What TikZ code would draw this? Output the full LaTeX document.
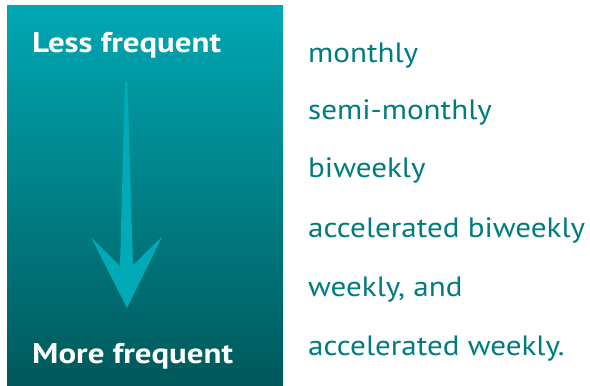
\documentclass[tikz,border=0pt]{standalone}
\usepackage{fontspec}
\setmainfont{PT Sans}
\newfontfamily\lblfont[FakeStretch=1.155]{PT Sans}
\newfontfamily\itemfont[FakeStretch=1.11]{PT Sans}
\begin{document}
\begin{tikzpicture}[x=1pt,y=-1pt,
  lbl/.style={font=\lblfont\bfseries\fontsize{28.5}{32}\selectfont, text=white, anchor=base west, inner sep=0pt},
  item/.style={font=\itemfont\fontsize{28}{32}\selectfont, text=itemc, anchor=base west, inner sep=0pt}]
\definecolor{topc}{RGB}{0,168,180}
\definecolor{botc}{RGB}{0,88,90}
\definecolor{arrc}{RGB}{0,170,182}
\definecolor{itemc}{RGB}{0,124,128}
\useasboundingbox (0,0) rectangle (590,386);
\fill[white] (0,0) rectangle (590,386);
\shade[top color=topc, bottom color=botc] (7,5) rectangle (283,386);
\fill[arrc] (125,82) -- (127.5,82) -- (133,265) -- (162,237) -- (127,308) -- (91,237) -- (120,266) -- cycle;
\node[lbl] (less) at (32,52) {Less frequent};
\node[lbl] (more) at (32,363) {More frequent};
\node[item] (i1) at (308,62) {monthly};
\node[item] (i2) at (308,119) {semi-monthly};
\node[item] (i3) at (308,177) {biweekly};
\node[item] (i4) at (308,237) {accelerated biweekly};
\node[item] (i5) at (308,296) {weekly, and};
\node[item] (i6) at (308,355) {accelerated weekly.};
\end{tikzpicture}
\end{document}
